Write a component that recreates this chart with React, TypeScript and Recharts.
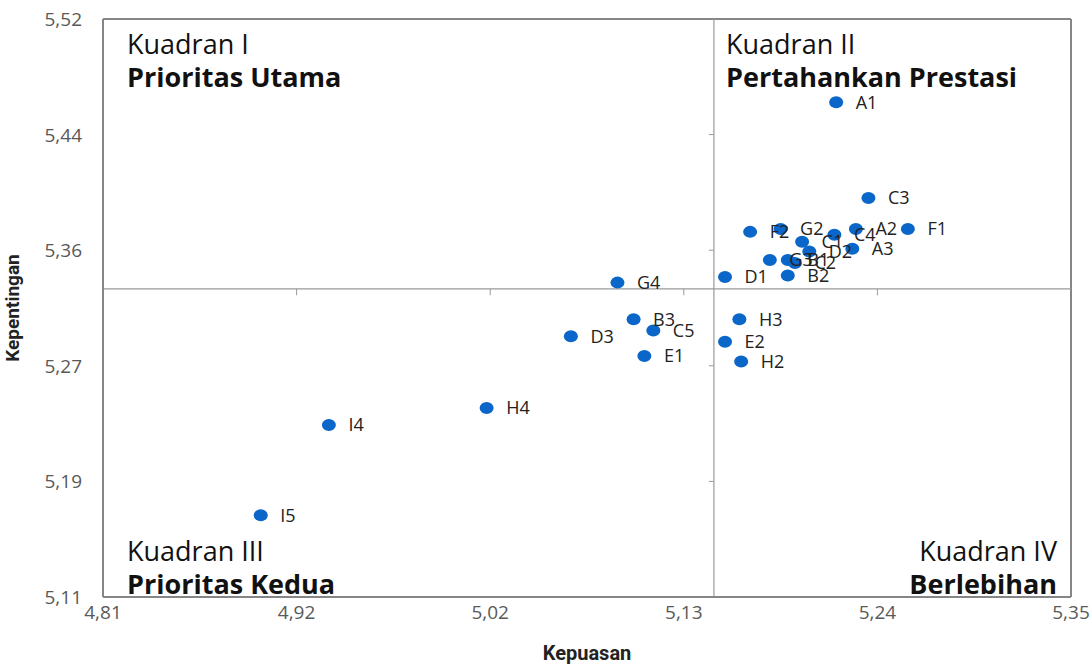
import {
  LabelList,
  ReferenceLine,
  Scatter,
  ScatterChart,
  XAxis,
  YAxis,
} from "recharts";

const attributes = [
  "A1", "C3", "F1", "A2", "C4", "F2", "G2", "C1", "A3", "D2", "G3", "B1", "C2",
  "D1", "B2", "G4", "B3", "C5", "D3", "E1", "H3", "E2", "H2", "H4", "I4", "I5",
];
const kepuasan = [
  5.217, 5.235, 5.257, 5.228, 5.216, 5.169, 5.186, 5.198, 5.226, 5.202, 5.18, 5.19, 5.194,
  5.155, 5.19, 5.095, 5.104, 5.115, 5.069, 5.11, 5.163, 5.155, 5.164, 5.022, 4.934, 4.896,
];
const kepentingan = [
  5.461, 5.393, 5.371, 5.371, 5.367, 5.369, 5.371, 5.362, 5.357, 5.355, 5.349, 5.349, 5.347,
  5.337, 5.338, 5.333, 5.307, 5.299, 5.295, 5.281, 5.307, 5.291, 5.277, 5.244, 5.232, 5.168,
];

const xTicks = [4.808, 4.916, 5.024, 5.132, 5.24, 5.348];
const yTicks = [5.11, 5.192, 5.274, 5.356, 5.438, 5.52];
const meanKepuasan = 5.1488;
const meanKepentingan = 5.3285;

const points = attributes.map((name, i) => ({
  name,
  x: kepuasan[i],
  y: kepentingan[i],
}));

const fmt = (v: number) => v.toFixed(2).replace(".", ",");
const tickFont = "'Open Sans', sans-serif";
const textFont = "'Open Sans', 'Noto Sans', sans-serif";
const titleFont = "'Liberation Sans Narrow', 'Roboto', sans-serif";
const frame = "#868686";
const midLine = "#9a9a9a";

const Dot = (props: any) => (
  <ellipse cx={props.cx} cy={props.cy} rx={7} ry={6} fill="#0A66C8" />
);

const XTick = ({ x, y, payload }: any) => (
  <text x={x} y={y + 22} textAnchor="middle" fill="#595959" fontSize={19} fontFamily={tickFont}>
    {fmt(payload.value)}
  </text>
);

const YTick = ({ x, y, payload }: any) => (
  <text x={x + 1} y={y + 7} textAnchor="end" fill="#595959" fontSize={19} fontFamily={tickFont}>
    {fmt(payload.value)}
  </text>
);

const quadrantText: React.CSSProperties = {
  position: "absolute",
  fontFamily: textFont,
  fontSize: 27,
  lineHeight: "33px",
  color: "#111",
  whiteSpace: "nowrap",
};

export default function App() {
  return (
    <div style={{ position: "relative", width: 1092, height: 664 }}>
      <style>{`body{margin:0}`}</style>
      <ScatterChart
        width={1092}
        height={664}
        margin={{ top: 19, right: 21, bottom: 0, left: 0 }}
      >
        <XAxis
          type="number"
          dataKey="x"
          domain={[xTicks[0], xTicks[xTicks.length - 1]]}
          ticks={xTicks}
          height={67}
          tickSize={0}
          tickMargin={0}
          stroke={frame}
          strokeWidth={2}
          tick={<XTick />}
          label={{
            value: "Kepuasan",
            position: "insideBottom",
            offset: 4,
            fill: "#222",
            fontSize: 20,
            fontWeight: 700,
            fontFamily: titleFont,
          }}
        />
        <YAxis
          type="number"
          dataKey="y"
          domain={[yTicks[0], yTicks[yTicks.length - 1]]}
          ticks={yTicks}
          width={103}
          tickSize={0}
          tickMargin={22}
          stroke={frame}
          strokeWidth={2}
          tick={<YTick />}
          label={{
            value: "Kepentingan",
            angle: -90,
            position: "insideLeft",
            offset: 12,
            textAnchor: "middle",
            fill: "#222",
            fontSize: 19,
            fontWeight: 700,
            fontFamily: titleFont,
          }}
        />
        <ReferenceLine x={xTicks[xTicks.length - 1]} stroke={frame} strokeWidth={2} />
        <ReferenceLine y={yTicks[yTicks.length - 1]} stroke={frame} strokeWidth={2} />
        <ReferenceLine x={meanKepuasan} stroke={midLine} strokeWidth={1.2} />
        <ReferenceLine y={meanKepentingan} stroke={midLine} strokeWidth={1.2} />
        {yTicks.slice(1, -1).map((t) => (
          <ReferenceLine
            key={"yt" + t}
            segment={[
              { x: meanKepuasan - 0.0028, y: t },
              { x: meanKepuasan, y: t },
            ]}
            stroke={midLine}
          />
        ))}
        {xTicks.slice(1, -1).map((t) => (
          <ReferenceLine
            key={"xt" + t}
            segment={[
              { x: t, y: meanKepentingan },
              { x: t, y: meanKepentingan - 0.0045 },
            ]}
            stroke={midLine}
          />
        ))}
        <Scatter data={points} shape={Dot} isAnimationActive={false}>
          <LabelList
            dataKey="name"
            position="right"
            offset={15}
            fill="#222"
            fontSize={18}
            fontFamily={textFont}
          />
        </Scatter>
      </ScatterChart>
      <div style={{ ...quadrantText, left: 127, top: 27 }}>
        Kuadran I
        <br />
        <b>Prioritas Utama</b>
      </div>
      <div style={{ ...quadrantText, left: 726, top: 27 }}>
        Kuadran II
        <br />
        <b>Pertahankan Prestasi</b>
      </div>
      <div style={{ ...quadrantText, left: 127, top: 534 }}>
        Kuadran III
        <br />
        <b>Prioritas Kedua</b>
      </div>
      <div style={{ ...quadrantText, right: 35, top: 534, textAlign: "right" }}>
        Kuadran IV
        <br />
        <b>Berlebihan</b>
      </div>
    </div>
  );
}
